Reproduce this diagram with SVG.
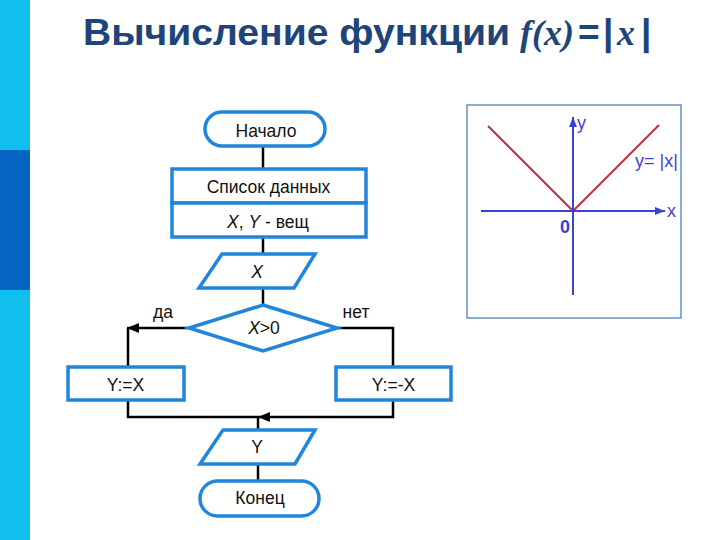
<svg xmlns="http://www.w3.org/2000/svg" width="720" height="540" viewBox="0 0 720 540">
<defs>
<style>
.blk{fill:#fff;stroke:#1f86dc;stroke-width:3.5}
.t{font-family:"Liberation Sans",Arial,sans-serif;font-size:17.5px;fill:#111;text-anchor:middle}
.ln{fill:none;stroke:#000;stroke-width:2.5}
.ax{stroke:#3f3fd0;stroke-width:2;fill:none}
.gt{font-family:"Liberation Sans",Arial,sans-serif;font-size:18px;fill:#3f3fd0}
.ti{font-family:"Liberation Sans",Arial,sans-serif;font-size:37px;font-weight:bold;fill:#1e4479}
.tm{font-family:"Liberation Serif","Times New Roman",serif;font-size:36px;font-style:italic;font-weight:bold}
</style>
<marker id="ah" markerWidth="12" markerHeight="10" refX="12" refY="5" orient="auto" markerUnits="userSpaceOnUse">
<path d="M0,0 L12,5 L0,10 Z" fill="#000"/>
</marker>
<marker id="ab" markerWidth="10" markerHeight="8" refX="10" refY="4" orient="auto" markerUnits="userSpaceOnUse">
<path d="M0,0 L10,4 L0,8 Z" fill="#3f3fd0"/>
</marker>
</defs>
<rect x="0" y="0" width="720" height="540" fill="#fff"/>
<rect x="0" y="0" width="30" height="540" fill="#10bfee"/>
<rect x="0" y="150" width="30" height="140" fill="#0563c1"/>
<g id="title">
<text class="ti" x="83" y="45" textLength="427" lengthAdjust="spacingAndGlyphs">Вычисление функции</text>
<text class="ti" y="45"><tspan class="tm" x="520">f(x)</tspan><tspan x="578">=</tspan><tspan x="603">|</tspan><tspan class="tm" x="617" font-weight="normal">x</tspan><tspan x="641">|</tspan></text>
</g>
<g id="connectors">
<path class="ln" d="M263,146 V170"/>
<path class="ln" d="M263,237 V254"/>
<path class="ln" d="M263,288 V305"/>
<path class="ln" d="M189,328 H127" marker-end="url(#ah)"/>
<path class="ln" d="M128,328 V367"/>
<path class="ln" d="M337,328 H393 V367"/>
<path class="ln" d="M128,400 V417 H258"/>
<path class="ln" d="M393,400 V417 H258" marker-end="url(#ah)"/>
<path class="ln" d="M258,417 V430"/>
<path class="ln" d="M258,464 V481"/>
</g>
<g id="start">
<rect class="blk" x="205" y="112" width="120" height="34" rx="17"/>
<text class="t" x="266" y="137">Начало</text>
</g>
<g id="data">
<rect class="blk" x="172" y="169" width="194" height="34"/>
<text class="t" x="268.5" y="193">Список данных</text>
<rect class="blk" x="172" y="203" width="194" height="34"/>
<text class="t" x="268" y="228"><tspan font-style="italic">X</tspan>, <tspan font-style="italic">Y</tspan> - вещ</text>
</g>
<g id="inputX">
<polygon class="blk" points="222,254 315,254 294,288 199,288"/>
<text class="t" x="257" y="278" font-style="italic">X</text>
</g>
<g id="cond">
<polygon class="blk" points="263,305 337,328 263,351 189,328"/>
<text class="t" x="264" y="334"><tspan font-style="italic">X</tspan>&gt;0</text>
</g>
<text class="t" x="163" y="318">да</text>
<text class="t" x="356" y="318">нет</text>
<g id="yes">
<rect class="blk" x="68" y="367" width="116" height="33"/>
<text class="t" x="125.5" y="391">Y:=X</text>
</g>
<g id="no">
<rect class="blk" x="336" y="367" width="115" height="33"/>
<text class="t" x="393.5" y="391">Y:=-X</text>
</g>
<g id="outY">
<polygon class="blk" points="223,430 315,430 295,464 200,464"/>
<text class="t" x="257" y="453">Y</text>
</g>
<g id="end">
<rect class="blk" x="200" y="481" width="119" height="35" rx="17.5"/>
<text class="t" x="260" y="504">Конец</text>
</g>
<g id="graph">
<rect x="467" y="105" width="214" height="213" fill="#fff" stroke="#3f76b0" stroke-width="1.2"/>
<path d="M488,126 L573,211 L659,125" fill="none" stroke="#c0303a" stroke-width="2"/>
<path class="ax" d="M481,211 H665" marker-end="url(#ab)"/>
<path class="ax" d="M573,295 V117" marker-end="url(#ab)"/>
<text class="gt" x="667" y="217">x</text>
<text class="gt" x="577" y="129">y</text>
<text class="gt" x="635" y="167">y= |x|</text>
<text class="gt" x="560" y="233" font-weight="bold">0</text>
</g>
</svg>
